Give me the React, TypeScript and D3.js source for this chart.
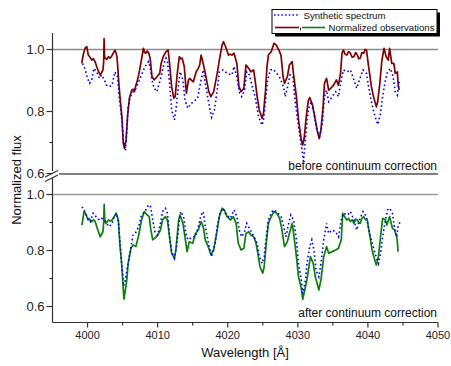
import React from 'react';
import * as d3 from 'd3';

type P = [number, number];

// Upper panel (before continuum correction)
const obsBefore: P[] = [
  [3999.17,0.955],[3999.4,0.985],[3999.64,1.004],[3999.9,1.009],[4000.1,0.982],[4000.35,0.975],[4000.6,0.966],[4000.85,0.97],
  [4001.07,0.961],[4001.3,0.945],[4001.55,0.93],[4001.8,0.918],[4002.0,0.925],[4002.2,0.934],[4002.3,0.96],[4002.36,1.035],
  [4002.42,0.98],[4002.5,0.972],[4002.75,0.968],[4002.98,0.977],[4003.2,0.972],[4003.45,0.979],[4003.7,0.99],[4003.9,0.998],
  [4004.05,0.99],[4004.2,0.977],[4004.35,0.93],[4004.5,0.88],[4004.7,0.83],[4004.9,0.783],[4005.1,0.697],[4005.26,0.681],
  [4005.5,0.708],[4005.7,0.783],[4005.97,0.843],[4006.3,0.869],[4006.5,0.872],[4006.7,0.864],[4006.9,0.885],[4007.1,0.9],
  [4007.3,0.918],[4007.6,0.955],[4007.97,1.004],[4008.15,0.99],[4008.3,0.988],[4008.5,0.995],[4008.7,0.99],[4008.93,0.972],
  [4009.2,0.912],[4009.5,0.902],[4009.9,0.912],[4010.3,0.923],[4010.5,0.955],[4010.8,0.977],[4011.0,0.985],[4011.2,0.993],
  [4011.5,0.998],[4011.7,0.955],[4012.0,0.88],[4012.3,0.843],[4012.5,0.848],[4012.8,0.923],[4013.1,0.977],[4013.3,0.97],
  [4013.5,0.972],[4013.8,0.945],[4014.1,0.859],[4014.4,0.902],[4014.6,0.907],[4014.85,0.9],[4015.1,0.896],[4015.5,0.928],
  [4015.8,0.939],[4016.0,0.95],[4016.2,0.982],[4016.5,0.955],[4016.8,0.923],[4017.3,0.864],[4017.6,0.848],[4018.0,0.864],
  [4018.5,0.923],[4018.8,0.966],[4019.2,1.015],[4019.4,1.025],[4019.7,1.009],[4020.1,0.982],[4020.35,0.985],[4020.6,0.982],
  [4020.9,0.988],[4021.3,0.955],[4021.6,0.88],[4021.9,0.864],[4022.3,0.875],[4022.6,0.95],[4023.0,0.939],[4023.3,0.928],
  [4023.7,0.934],[4023.9,0.902],[4024.2,0.848],[4024.5,0.805],[4024.9,0.778],[4025.1,0.794],[4025.4,0.869],[4025.6,0.945],
  [4025.8,0.982],[4026.2,0.993],[4026.6,1.02],[4026.9,1.015],[4027.3,0.998],[4027.6,0.982],[4027.9,0.912],[4028.1,0.891],
  [4028.5,0.912],[4028.8,0.95],[4029.2,0.961],[4029.4,0.918],[4029.8,0.848],[4030.1,0.773],[4030.5,0.708],[4030.7,0.692],
  [4030.9,0.713],[4031.2,0.783],[4031.5,0.835],[4031.7,0.845],[4032.1,0.821],[4032.5,0.773],[4032.8,0.735],[4033.05,0.713],
  [4033.3,0.74],[4033.6,0.815],[4033.8,0.891],[4034.1,0.907],[4034.4,0.869],[4034.7,0.875],[4035.1,0.885],[4035.5,0.902],
  [4035.8,0.885],[4036.1,0.923],[4036.3,0.988],[4036.5,0.998],[4036.75,0.985],[4037.0,0.982],[4037.25,0.993],[4037.5,0.988],
  [4037.75,0.975],[4038.0,0.977],[4038.25,0.99],[4038.5,0.982],[4038.7,0.97],[4038.9,0.972],[4039.15,0.99],[4039.4,0.988],
  [4039.6,1.0],[4039.8,0.998],[4040.1,0.945],[4040.5,0.88],[4040.8,0.848],[4041.2,0.815],[4041.4,0.832],[4041.7,0.891],
  [4042.0,0.966],[4042.3,1.004],[4042.6,0.977],[4042.9,0.966],[4043.1,1.004],[4043.4,0.955],[4043.7,0.955],[4043.9,0.923],
  [4044.2,0.928],[4044.3,0.891],[4044.45,0.87],
];

const synthBefore: P[] = [
  [3999.3,0.955],[3999.6,0.939],[4000.0,0.907],[4000.3,0.891],[4000.6,0.902],[4000.9,0.939],[4001.3,0.928],[4001.7,0.907],
  [4002.0,0.918],[4002.4,0.902],[4002.7,0.885],[4003.1,0.88],[4003.5,0.885],[4003.7,0.907],[4003.9,0.928],[4004.3,0.912],
  [4004.5,0.848],[4004.9,0.773],[4005.1,0.708],[4005.4,0.674],[4005.6,0.74],[4005.8,0.815],[4006.1,0.848],[4006.5,0.864],
  [4006.9,0.875],[4007.3,0.896],[4007.7,0.918],[4008.2,0.945],[4008.7,0.961],[4008.9,0.945],[4009.2,0.902],[4009.5,0.875],
  [4009.9,0.864],[4010.3,0.896],[4010.6,0.923],[4010.9,0.955],[4011.2,0.972],[4011.4,0.961],[4011.7,0.891],[4012.0,0.805],
  [4012.4,0.773],[4012.6,0.805],[4013.0,0.891],[4013.2,0.928],[4013.6,0.902],[4013.9,0.837],[4014.3,0.81],[4014.6,0.821],
  [4015.1,0.832],[4015.7,0.843],[4016.2,0.902],[4016.5,0.934],[4016.8,0.891],[4017.3,0.826],[4017.7,0.781],[4018.1,0.805],
  [4018.5,0.869],[4018.8,0.928],[4019.3,0.934],[4019.9,0.923],[4020.6,0.918],[4020.9,0.945],[4021.3,0.912],[4021.7,0.859],
  [4022.0,0.848],[4022.4,0.869],[4022.7,0.928],[4023.1,0.918],[4023.5,0.88],[4023.9,0.848],[4024.4,0.783],[4024.9,0.756],
  [4025.1,0.773],[4025.4,0.837],[4025.7,0.902],[4026.1,0.934],[4026.5,0.936],[4027.0,0.923],[4027.5,0.907],[4028.0,0.875],
  [4028.2,0.848],[4028.5,0.875],[4028.9,0.918],[4029.3,0.912],[4029.6,0.837],[4030.1,0.751],[4030.5,0.69],[4030.8,0.64],
  [4031.0,0.69],[4031.2,0.74],[4031.5,0.805],[4031.9,0.832],[4032.3,0.794],[4032.7,0.74],[4033.1,0.719],[4033.5,0.762],
  [4033.8,0.848],[4034.1,0.869],[4034.4,0.832],[4034.9,0.848],[4035.4,0.864],[4035.8,0.848],[4036.2,0.902],[4036.5,0.934],
  [4037.0,0.928],[4037.5,0.934],[4038.0,0.902],[4038.4,0.875],[4038.8,0.902],[4039.3,0.934],[4039.8,0.923],[4040.1,0.88],
  [4040.6,0.821],[4041.0,0.785],[4041.4,0.758],[4041.8,0.794],[4042.1,0.848],[4042.5,0.902],[4042.8,0.928],[4043.2,0.939],
  [4043.6,0.912],[4043.9,0.864],[4044.2,0.853],[4044.4,0.891],[4044.6,0.902],
];

// Lower panel (after continuum correction)
const obsAfter: P[] = [
  [3999.2,0.891],[3999.5,0.939],[3999.7,0.933],[4000.1,0.909],[4000.35,0.912],[4000.6,0.903],[4000.85,0.91],[4001.1,0.903],
  [4001.4,0.879],[4001.8,0.849],[4002.2,0.867],[4002.3,0.9],[4002.38,0.965],[4002.45,0.91],[4002.6,0.897],[4003.0,0.909],
  [4003.25,0.905],[4003.5,0.909],[4003.8,0.921],[4004.1,0.933],[4004.4,0.909],[4004.6,0.826],[4004.9,0.742],[4005.1,0.659],
  [4005.2,0.626],[4005.4,0.66],[4005.6,0.695],[4005.8,0.754],[4006.2,0.808],[4006.5,0.82],[4006.9,0.814],[4007.3,0.855],
  [4007.7,0.909],[4008.1,0.939],[4008.5,0.927],[4008.8,0.921],[4009.0,0.879],[4009.3,0.838],[4009.6,0.844],[4010.0,0.855],
  [4010.4,0.873],[4010.7,0.909],[4011.1,0.921],[4011.4,0.909],[4011.7,0.849],[4012.0,0.79],[4012.4,0.772],[4012.6,0.802],
  [4013.0,0.909],[4013.2,0.927],[4013.6,0.897],[4013.9,0.849],[4014.2,0.796],[4014.5,0.831],[4015.0,0.826],[4015.4,0.861],
  [4015.8,0.873],[4016.2,0.903],[4016.5,0.885],[4016.8,0.838],[4017.3,0.808],[4017.6,0.784],[4018.0,0.802],[4018.5,0.873],
  [4018.8,0.921],[4019.2,0.951],[4019.5,0.945],[4019.9,0.921],[4020.4,0.909],[4020.8,0.921],[4021.2,0.897],[4021.5,0.826],
  [4021.9,0.802],[4022.3,0.808],[4022.6,0.861],[4023.0,0.867],[4023.3,0.855],[4023.7,0.849],[4024.0,0.83],[4024.3,0.79],
  [4024.6,0.742],[4025.0,0.719],[4025.2,0.742],[4025.5,0.826],[4025.8,0.897],[4026.2,0.921],[4026.6,0.939],[4027.0,0.933],
  [4027.4,0.915],[4027.7,0.879],[4028.1,0.814],[4028.5,0.831],[4028.8,0.861],[4029.2,0.897],[4029.4,0.861],[4029.8,0.778],
  [4030.1,0.706],[4030.5,0.665],[4030.7,0.626],[4031.0,0.66],[4031.3,0.695],[4031.8,0.778],[4032.2,0.754],[4032.5,0.706],
  [4033.0,0.659],[4033.3,0.695],[4033.7,0.778],[4034.1,0.814],[4034.4,0.79],[4034.9,0.796],[4035.4,0.802],[4035.8,0.808],
  [4036.2,0.838],[4036.4,0.933],[4036.7,0.92],[4037.0,0.909],[4037.25,0.915],[4037.5,0.903],[4037.75,0.91],[4038.0,0.897],
  [4038.25,0.912],[4038.5,0.909],[4038.7,0.9],[4038.9,0.897],[4039.15,0.915],[4039.4,0.921],[4039.65,0.91],[4039.9,0.909],
  [4040.3,0.849],[4040.6,0.802],[4040.9,0.772],[4041.2,0.748],[4041.5,0.778],[4041.8,0.849],[4042.1,0.915],[4042.5,0.909],
  [4042.7,0.891],[4043.1,0.921],[4043.5,0.879],[4043.8,0.873],[4044.1,0.849],[4044.2,0.831],[4044.3,0.796],
];

const synthAfter: P[] = [
  [3999.2,0.956],[3999.6,0.939],[4000.0,0.915],[4000.4,0.903],[4000.8,0.933],[4001.2,0.921],[4001.7,0.909],[4002.0,0.915],
  [4002.4,0.909],[4002.7,0.897],[4003.1,0.885],[4003.5,0.897],[4003.8,0.921],[4004.1,0.933],[4004.4,0.903],[4004.6,0.838],
  [4004.85,0.76],[4005.15,0.673],[4005.4,0.695],[4005.7,0.742],[4006.1,0.802],[4006.5,0.855],[4006.8,0.861],[4007.3,0.885],
  [4007.7,0.927],[4008.2,0.939],[4008.7,0.963],[4009.0,0.956],[4009.3,0.909],[4009.6,0.867],[4010.0,0.855],[4010.4,0.897],
  [4010.7,0.939],[4011.1,0.951],[4011.4,0.933],[4011.7,0.849],[4012.0,0.796],[4012.4,0.772],[4012.7,0.814],[4013.1,0.909],
  [4013.3,0.939],[4013.7,0.921],[4014.1,0.849],[4014.4,0.838],[4014.9,0.849],[4015.4,0.849],[4015.8,0.885],[4016.2,0.927],
  [4016.5,0.939],[4016.8,0.885],[4017.3,0.82],[4017.7,0.778],[4018.2,0.826],[4018.5,0.885],[4018.9,0.933],[4019.3,0.951],
  [4019.8,0.927],[4020.4,0.915],[4020.9,0.945],[4021.3,0.921],[4021.7,0.867],[4022.0,0.849],[4022.4,0.867],[4022.7,0.897],
  [4023.1,0.879],[4023.5,0.861],[4024.2,0.826],[4024.5,0.778],[4024.9,0.754],[4025.2,0.778],[4025.5,0.849],[4025.8,0.909],
  [4026.2,0.933],[4026.5,0.945],[4027.0,0.939],[4027.6,0.921],[4028.0,0.885],[4028.3,0.849],[4028.7,0.897],[4029.0,0.927],
  [4029.4,0.909],[4029.8,0.838],[4030.1,0.754],[4030.5,0.695],[4030.7,0.647],[4031.1,0.695],[4031.3,0.754],[4031.7,0.814],
  [4032.0,0.838],[4032.3,0.802],[4032.6,0.73],[4033.0,0.706],[4033.3,0.754],[4033.7,0.838],[4034.1,0.897],[4034.4,0.861],
  [4034.9,0.873],[4035.4,0.867],[4035.8,0.849],[4036.2,0.909],[4036.5,0.933],[4037.1,0.927],[4037.5,0.939],[4038.0,0.909],
  [4038.4,0.873],[4038.8,0.909],[4039.3,0.939],[4039.8,0.921],[4040.1,0.879],[4040.6,0.826],[4041.1,0.784],[4041.5,0.754],
  [4041.8,0.79],[4042.1,0.849],[4042.5,0.909],[4042.8,0.945],[4043.1,0.951],[4043.5,0.933],[4043.8,0.879],[4044.1,0.849],
  [4044.3,0.885],[4044.6,0.903],
];

const xMajorTicks = [4000, 4010, 4020, 4030, 4040, 4050];
const xMinorTicks = [4005, 4015, 4025, 4035, 4045];
const yMajorTicks = [0.6, 0.8, 1.0];
const yMinorTicks = [0.7, 0.9];
const legendLabels = ['Synthetic spectrum', 'Normalized observations'];
const panelLabels = ['before continuum correction', 'after continuum correction'];

const FONT = 'Liberation Sans, Arial, Helvetica, sans-serif';
const RED = '#800000';
const GREEN = '#0a7f0a';
const BLUE = '#0000ff';

export default function App() {
  const x = d3.scaleLinear().domain([3995, 4050]).range([52.5, 438]);
  const yU = d3.scaleLinear().domain([0.6, 1.0]).range([173.5, 49.5]);
  const yL = d3.scaleLinear().domain([0.6, 1.0]).range([306.5, 194.5]);
  const lineU = d3.line<P>().x(d => x(d[0])).y(d => yU(d[1]));
  const lineL = d3.line<P>().x(d => x(d[0])).y(d => yL(d[1]));
  const axisX = 52.5;
  const axisBottom = 322.5;
  const axisTop = 33;
  const xEnd = x(4050);

  const yAxis = (s: d3.ScaleLinear<number, number>, key: string) => (
    <g key={key}>
      {yMajorTicks.map(t => (
        <g key={t}>
          <line x1={axisX - 6} x2={axisX} y1={s(t)} y2={s(t)} stroke="#333" strokeWidth={1.2} />
          <text x={axisX - 8} y={s(t)} dy="0.35em" textAnchor="end" fontSize={13} fontFamily={FONT} fill="#222">
            {t.toFixed(1)}
          </text>
        </g>
      ))}
      {yMinorTicks.map(t => (
        <line key={t} x1={axisX - 3} x2={axisX} y1={s(t)} y2={s(t)} stroke="#333" strokeWidth={1.2} />
      ))}
    </g>
  );

  return (
    <svg width={451} height={366} style={{ position: 'absolute', left: 0, top: 0, background: '#fff' }}>
      {/* reference lines */}
      <line x1={axisX} x2={xEnd} y1={yU(1)} y2={yU(1)} stroke="#8a8a8a" strokeWidth={1.6} />
      <line x1={axisX} x2={xEnd} y1={yL(1)} y2={yL(1)} stroke="#9a9a9a" strokeWidth={1.6} />
      <line x1={59} x2={xEnd} y1={174} y2={174} stroke="#555" strokeWidth={1.6} />

      {/* spectra */}
      <path d={lineU(obsBefore) || ''} fill="none" stroke={RED} strokeWidth={1.7} strokeLinejoin="round" />
      <path d={lineU(synthBefore) || ''} fill="none" stroke={BLUE} strokeWidth={1.6} strokeDasharray="1.6 2.6" />
      <path d={lineL(obsAfter) || ''} fill="none" stroke={GREEN} strokeWidth={1.7} strokeLinejoin="round" />
      <path d={lineL(synthAfter) || ''} fill="none" stroke={BLUE} strokeWidth={1.6} strokeDasharray="1.6 2.6" />

      {/* panel labels */}
      <text x={437} y={169.5} textAnchor="end" fontSize={12} fontFamily={FONT} fill="#111">{panelLabels[0]}</text>
      <text x={437} y={316.5} textAnchor="end" fontSize={12} fontFamily={FONT} fill="#111">{panelLabels[1]}</text>

      {/* left axis with break */}
      <line x1={axisX} x2={axisX} y1={axisTop} y2={171} stroke="#333" strokeWidth={1.2} />
      <line x1={axisX} x2={axisX} y1={178} y2={axisBottom} stroke="#333" strokeWidth={1.2} />
      <line x1={45} x2={58} y1={177} y2={170.5} stroke="#333" strokeWidth={1.2} />
      <line x1={45} x2={58} y1={181.5} y2={175} stroke="#333" strokeWidth={1.2} />
      {yAxis(yU, 'u')}
      {yAxis(yL, 'l')}

      {/* bottom axis */}
      <line x1={axisX} x2={xEnd} y1={axisBottom} y2={axisBottom} stroke="#333" strokeWidth={1.2} />
      {xMajorTicks.map(t => (
        <g key={t}>
          <line x1={x(t)} x2={x(t)} y1={axisBottom} y2={axisBottom + 5} stroke="#333" strokeWidth={1.2} />
          <text x={x(t)} y={339} textAnchor="middle" fontSize={11} fontFamily={FONT} fill="#222">{t}</text>
        </g>
      ))}
      {xMinorTicks.map(t => (
        <line key={t} x1={x(t)} x2={x(t)} y1={axisBottom} y2={axisBottom + 3} stroke="#333" strokeWidth={1.2} />
      ))}

      {/* axis titles */}
      <text x={245} y={357} textAnchor="middle" fontSize={13} fontFamily={FONT} fill="#111">Wavelength [Å]</text>
      <text transform="translate(21,180) rotate(-90)" textAnchor="middle" fontSize={13} fontFamily={FONT} fill="#111">Normalized flux</text>

      {/* legend */}
      <rect x={275} y={12.5} width={165} height={24} fill="#000" />
      <rect x={272} y={9.5} width={165} height={24} fill="#fff" stroke="#000" strokeWidth={1} />
      <line x1={274} x2={300} y1={15} y2={15} stroke={BLUE} strokeWidth={1.4} strokeDasharray="1.5 2.2" />
      <text x={303.5} y={19} fontSize={9.6} fontFamily={FONT} fill="#111" textLength={82} lengthAdjust="spacingAndGlyphs">{legendLabels[0]}</text>
      <line x1={275} x2={299} y1={27.5} y2={27.5} stroke={RED} strokeWidth={1.6} />
      <line x1={300.5} x2={300.5} y1={27.5} y2={30.5} stroke="#333" strokeWidth={1} />
      <line x1={302} x2={325} y1={27.5} y2={27.5} stroke={GREEN} strokeWidth={1.6} />
      <text x={328.5} y={31} fontSize={9.6} fontFamily={FONT} fill="#111" textLength={106} lengthAdjust="spacingAndGlyphs">{legendLabels[1]}</text>
    </svg>
  );
}
